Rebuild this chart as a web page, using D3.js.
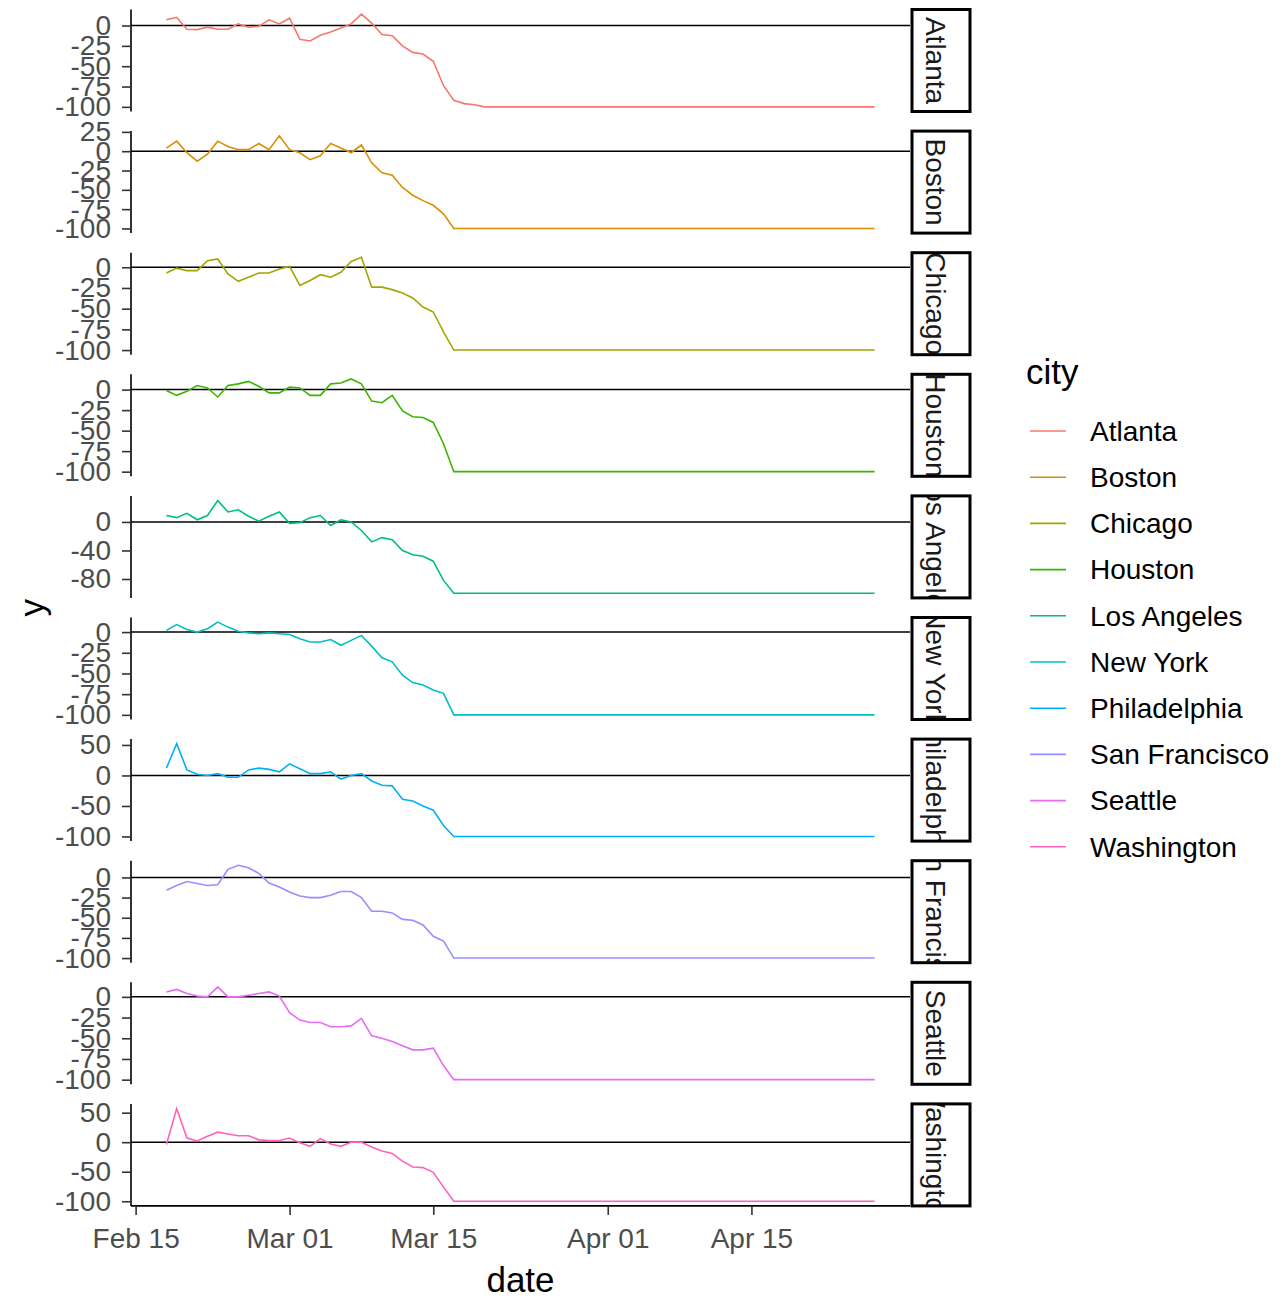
<!DOCTYPE html>
<html>
<head>
<meta charset="utf-8">
<script src="https://cdn.jsdelivr.net/npm/d3@7"></script>
<style>
  body { margin: 0; background: #fff; }
  text { font-family: "Liberation Sans", Arial, sans-serif; }
</style>
</head>
<body>
<div id="chart"></div>
<script>
// cities in facet order
var cities = ["Atlanta", "Boston", "Chicago", "Houston", "Los Angeles", "New York",
              "Philadelphia", "San Francisco", "Seattle", "Washington"];

// daily series, starting Feb 18 2020, one value per day up to Apr 27
var firstDay = "2020-02-18", lastDay = "2020-04-27";

var atlanta = [7,10,-4.5,-5,-2,-4.5,-4.5,2,-2,-1,7,2,9,-17,-19,-12,-8,-3,2,14,3,-11,-12.5,-25,-33,-35,-44,-74,-92,-96,-97.5,
  -100,-100,-100,-100,-100,-100,-100,-100,-100,-100,-100,-100,-100,
  -100,-100,-100,-100,-100,-100,-100,-100,-100,-100,-100,-100,-100,
  -100,-100,-100,-100,-100,-100,-100,-100,-100,-100,-100,-100,-100];
var boston = [4,13,-2,-13,-4,13,6,2,2,10,2,20,2,-2,-11,-6,10,4,-2,8,-15,-28,-31,-47,-57,-64,-70,-81,
  -100,-100,-100,-100,-100,-100,-100,-100,-100,-100,-100,-100,-100,-100,
  -100,-100,-100,-100,-100,-100,-100,-100,-100,-100,-100,-100,-100,-100,
  -100,-100,-100,-100,-100,-100,-100,-100,-100,-100,-100,-100,-100,-100];
var chicago = [-7,-1,-4,-4,8,10,-8,-17,-12,-7,-7,-2,1,-22,-16,-9,-12,-6,7,12,-24,-24,-27,-31,-37,-48,-54,-78,
  -100,-100,-100,-100,-100,-100,-100,-100,-100,-100,-100,-100,-100,-100,
  -100,-100,-100,-100,-100,-100,-100,-100,-100,-100,-100,-100,-100,-100,
  -100,-100,-100,-100,-100,-100,-100,-100,-100,-100,-100,-100,-100,-100];
var houston = [-1,-7,-2,5,2,-9,5,7,10,4,-4,-4,3,2,-7,-7,7,8,13,7,-14,-16,-7,-26,-33,-34,-40,-66,
  -100,-100,-100,-100,-100,-100,-100,-100,-100,-100,-100,-100,-100,-100,
  -100,-100,-100,-100,-100,-100,-100,-100,-100,-100,-100,-100,-100,-100,
  -100,-100,-100,-100,-100,-100,-100,-100,-100,-100,-100,-100,-100,-100];
var losAngeles = [9,6,12,3,9,30,14,17,8,1,8,14,-2,-1,6,9,-5,3,0,-12,-28,-22,-25,-40,-46,-48,-55,-82,
  -100,-100,-100,-100,-100,-100,-100,-100,-100,-100,-100,-100,-100,-100,
  -100,-100,-100,-100,-100,-100,-100,-100,-100,-100,-100,-100,-100,-100,
  -100,-100,-100,-100,-100,-100,-100,-100,-100,-100,-100,-100,-100,-100];
var newYork = [2,9,3,0,4,12,6,1,-1,-2,-1,-2,-3,-8,-12,-12,-9,-16,-10,-4,-17,-31,-36,-52,-61,-64,-70,-74,
  -100,-100,-100,-100,-100,-100,-100,-100,-100,-100,-100,-100,-100,-100,
  -100,-100,-100,-100,-100,-100,-100,-100,-100,-100,-100,-100,-100,-100,
  -100,-100,-100,-100,-100,-100,-100,-100,-100,-100,-100,-100,-100,-100];
var philadelphia = [12,52,9,2,0,3,-3,-3,9,12,10,6,19,11,3,3,6,-6,0,3,-9,-16,-17,-39,-42,-50,-57,-82,
  -100,-100,-100,-100,-100,-100,-100,-100,-100,-100,-100,-100,-100,-100,
  -100,-100,-100,-100,-100,-100,-100,-100,-100,-100,-100,-100,-100,-100,
  -100,-100,-100,-100,-100,-100,-100,-100,-100,-100,-100,-100,-100,-100];
var sanFrancisco = [-16,-10,-5,-7.5,-10,-9,10,15,12,5,-7,-12,-18,-23,-25,-25,-22,-17.5,-17.5,-25,-42,-42,-44,-52,-53,-59,-73,-79,
  -100,-100,-100,-100,-100,-100,-100,-100,-100,-100,-100,-100,-100,-100,
  -100,-100,-100,-100,-100,-100,-100,-100,-100,-100,-100,-100,-100,-100,
  -100,-100,-100,-100,-100,-100,-100,-100,-100,-100,-100,-100,-100,-100];
var seattle = [6,9,4,1,0,12,0,0,2,4,6,1,-19,-28,-31,-31,-36,-36,-35,-26,-47,-50,-54,-59,-64,-64,-62,-83,
  -100,-100,-100,-100,-100,-100,-100,-100,-100,-100,-100,-100,-100,-100,
  -100,-100,-100,-100,-100,-100,-100,-100,-100,-100,-100,-100,-100,-100,
  -100,-100,-100,-100,-100,-100,-100,-100,-100,-100,-100,-100,-100,-100];
var washington = [-4,57,7,2,10,17,14,11,11,4,3,3,7,-1,-7,6,-3,-7,0,0,-8,-15,-19,-32,-42,-43,-51,-76,
  -100,-100,-100,-100,-100,-100,-100,-100,-100,-100,-100,-100,-100,-100,
  -100,-100,-100,-100,-100,-100,-100,-100,-100,-100,-100,-100,-100,-100,
  -100,-100,-100,-100,-100,-100,-100,-100,-100,-100,-100,-100,-100,-100];

var series = [atlanta, boston, chicago, houston, losAngeles, newYork,
              philadelphia, sanFrancisco, seattle, washington];

// y tick labels per facet (free scales)
var yTicks = [
  [0,-25,-50,-75,-100],
  [25,0,-25,-50,-75,-100],
  [0,-25,-50,-75,-100],
  [0,-25,-50,-75,-100],
  [0,-40,-80],
  [0,-25,-50,-75,-100],
  [50,0,-50,-100],
  [0,-25,-50,-75,-100],
  [0,-25,-50,-75,-100],
  [50,0,-50,-100]
];
var xTicks = ["2020-02-15", "2020-03-01", "2020-03-15", "2020-04-01", "2020-04-15"];

var colors = ["#F8766D","#D89000","#A3A500","#39B600","#00BF7D",
              "#00BFC4","#00B0F6","#9590FF","#E76BF3","#FF62BC"];

// layout
var W = 1286, H = 1298;
var left = 131, right = 910;
var top0 = 9.5, step = 121.6, ph = 102;
var stripW = 58;

var svg = d3.select("#chart").append("svg")
  .attr("width", W).attr("height", H);

var parse = d3.utcParse("%Y-%m-%d");
var days = d3.utcDay.range(parse(firstDay), d3.utcDay.offset(parse(lastDay), 1));

var span = parse(lastDay) - parse(firstDay);
var x = d3.scaleUtc()
  .domain([new Date(+parse(firstDay) - span * 0.05), new Date(+parse(lastDay) + span * 0.05)])
  .range([left, right]);

var color = d3.scaleOrdinal().domain(cities).range(colors);

cities.forEach(function(city, k) {
  var vals = series[k];
  var data = days.map(function(d, i) { return {date: d, value: vals[i]}; });
  var ext = d3.extent(vals);
  var pad = (ext[1] - ext[0]) * 0.05;
  var ty = top0 + k * step;
  var y = d3.scaleLinear()
    .domain([ext[0] - pad, ext[1] + pad])
    .range([ty + ph, ty]);

  var g = svg.append("g");

  // zero line
  g.append("line")
    .attr("x1", left).attr("x2", right)
    .attr("y1", y(0)).attr("y2", y(0))
    .attr("stroke", "black").attr("stroke-width", 1.5);

  g.append("path")
    .datum(data)
    .attr("fill", "none")
    .attr("stroke", color(city))
    .attr("stroke-width", 1.6)
    .attr("d", d3.line().x(function(d) { return x(d.date); }).y(function(d) { return y(d.value); }));

  // y axis
  var ax = g.append("g")
    .attr("transform", "translate(" + left + ",0)")
    .call(d3.axisLeft(y).tickValues(yTicks[k]).tickFormat(function(d) { return String(d); })
      .tickSize(9).tickPadding(11).tickSizeOuter(0));
  ax.select(".domain").attr("stroke", "black").attr("stroke-width", 1.6)
    .attr("d", "M0," + ty + "V" + (ty + ph));
  ax.selectAll(".tick line").attr("stroke", "#333").attr("stroke-width", 1.6);
  ax.selectAll(".tick text")
    .attr("font-family", "Liberation Sans, Arial, sans-serif")
    .attr("font-size", 28).attr("fill", "#4D4D4D");

  // strip
  var sx = right + 2;
  var clipId = "clip" + k;
  svg.append("clipPath").attr("id", clipId)
    .append("rect").attr("x", sx).attr("y", ty).attr("width", stripW).attr("height", ph);
  var sg = svg.append("g");
  sg.append("rect")
    .attr("x", sx).attr("y", ty).attr("width", stripW).attr("height", ph)
    .attr("fill", "white");
  sg.append("g")
    .attr("clip-path", "url(#" + clipId + ")")
    .append("text")
    .attr("transform", "translate(" + (sx + stripW / 2 - 5) + "," + (ty + ph / 2) + ") rotate(90)")
    .attr("text-anchor", "middle")
    .attr("dy", "0.35em")
    .attr("font-size", 28).attr("fill", "#1A1A1A")
    .text(city);
  sg.append("rect")
    .attr("x", sx).attr("y", ty).attr("width", stripW).attr("height", ph)
    .attr("fill", "none").attr("stroke", "black").attr("stroke-width", 3);

  // x axis only on last panel
  if (k === cities.length - 1) {
    var xa = svg.append("g")
      .attr("transform", "translate(0," + (ty + ph) + ")")
      .call(d3.axisBottom(x)
        .tickValues(xTicks.map(parse))
        .tickFormat(d3.utcFormat("%b %d"))
        .tickSize(9).tickPadding(13).tickSizeOuter(0));
    xa.select(".domain").attr("stroke", "black").attr("stroke-width", 1.6)
      .attr("d", "M" + left + ",0H" + right);
    xa.selectAll(".tick line").attr("stroke", "#333").attr("stroke-width", 1.6);
    xa.selectAll(".tick text")
      .attr("font-family", "Liberation Sans, Arial, sans-serif")
      .attr("font-size", 28).attr("fill", "#4D4D4D");
  }
});

// axis titles
svg.append("text")
  .attr("x", (left + right) / 2).attr("y", 1292)
  .attr("text-anchor", "middle")
  .attr("font-size", 35).attr("fill", "black")
  .text("date");

svg.append("text")
  .attr("transform", "translate(44," + (top0 + (9 * step + ph) / 2) + ") rotate(-90)")
  .attr("text-anchor", "middle")
  .attr("font-size", 35).attr("fill", "black")
  .text("y");

// legend
var lg = svg.append("g");
lg.append("text")
  .attr("x", 1026).attr("y", 384)
  .attr("font-size", 35).attr("fill", "black")
  .text("city");

var legendTop = 431, legendStep = 46.2;
cities.forEach(function(city, k) {
  var ly = legendTop + k * legendStep;
  lg.append("line")
    .attr("x1", 1030).attr("x2", 1066)
    .attr("y1", ly).attr("y2", ly)
    .attr("stroke", color(city)).attr("stroke-width", 1.6);
  lg.append("text")
    .attr("x", 1090).attr("y", ly)
    .attr("dy", "0.35em")
    .attr("font-size", 28).attr("fill", "black")
    .text(city);
});
</script>
</body>
</html>
